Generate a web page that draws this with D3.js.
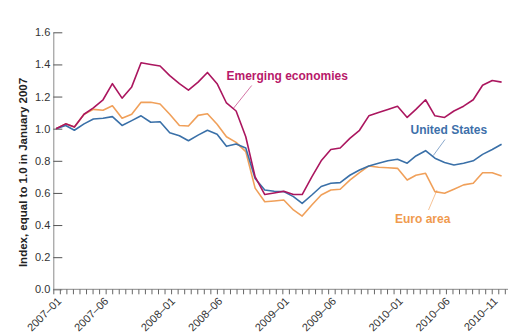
<!DOCTYPE html>
<html><head><meta charset="utf-8">
<script src="https://cdn.jsdelivr.net/npm/d3@7"></script>
<style>
body{margin:0;background:#fff;}
svg{display:block;font-family:"Liberation Sans",Arial,sans-serif;}
</style></head><body>
<svg id="c" width="508" height="333"></svg>
<script>
const months = d3.range(48).map(i => d3.timeMonth.offset(new Date(2007,0,1), i));
const emerging = [1.00,1.03,1.01,1.09,1.13,1.18,1.28,1.19,1.26,1.41,1.40,1.39,
  1.33,1.28,1.24,1.29,1.35,1.28,1.16,1.11,0.95,0.70,0.59,0.60,
  0.61,0.59,0.59,0.70,0.80,0.87,0.88,0.94,0.99,1.08,1.10,1.12,
  1.14,1.07,1.12,1.18,1.08,1.07,1.11,1.14,1.18,1.27,1.30,1.29];
const unitedStates = [1.00,1.02,0.99,1.03,1.06,1.065,1.075,1.02,1.05,1.08,1.04,1.043,
  0.975,0.956,0.925,0.96,0.99,0.965,0.89,0.905,0.88,0.69,0.618,0.61,
  0.608,0.577,0.535,0.587,0.64,0.66,0.664,0.71,0.743,0.768,0.785,0.80,
  0.81,0.785,0.83,0.863,0.816,0.79,0.774,0.785,0.80,0.84,0.87,0.903];
const euroArea = [1.00,1.03,1.01,1.09,1.12,1.115,1.143,1.065,1.09,1.164,1.164,1.154,
  1.09,1.02,1.017,1.083,1.093,1.028,0.95,0.915,0.857,0.63,0.545,0.55,
  0.556,0.494,0.456,0.525,0.587,0.618,0.623,0.68,0.726,0.768,0.76,0.757,
  0.753,0.68,0.71,0.722,0.608,0.598,0.623,0.65,0.66,0.726,0.726,0.705];
const yTicks = [0,0.2,0.4,0.6,0.8,1.0,1.2,1.4,1.6];
const xLabels = ["2007-01","2007-06","2008-01","2008-06","2009-01","2009-06","2010-01","2010-06","2010-11"];
const seriesNames = ["Emerging economies","United States","Euro area"];

const svg = d3.select("#c");
const axisX = 53.3;
const x = d3.scaleTime().domain([months[0], months[47]]).range([56, 501.6]);
const y = d3.scaleLinear().domain([0,1.6]).range([289.3, 32.3]);

const axisCol = "#8a8a8a";
// Y axis
const yAxis = d3.axisLeft(y).tickValues(yTicks).tickSize(0).tickPadding(3).tickFormat(d3.format(".1f"));
const gy = svg.append("g").attr("transform", `translate(${axisX},0)`).call(yAxis);
gy.select(".domain").attr("stroke", axisCol);
gy.selectAll(".tick text").attr("font-size", 11).attr("fill", "#333");
gy.selectAll(".tick").append("line").attr("x1",0).attr("x2",9).attr("stroke", "#555");

// X axis minor ticks (every 3 weeks)
const t0 = x.invert(axisX);
const minor = d3.range(0, 80).map(k => d3.timeDay.offset(t0, 21*k)).filter(d => x(d) <= 505);
const xAxis = d3.axisBottom(x).tickValues(minor).tickSize(5).tickFormat("");
const gx = svg.append("g").attr("transform", `translate(0,${y(0)})`).call(xAxis);
gx.select(".domain").attr("stroke", axisCol).attr("d", `M${axisX},0H508`);
gx.selectAll(".tick line").attr("stroke", "#666");

// X labels
const parse = d3.timeParse("%Y-%m");
svg.append("g").selectAll("text").data(xLabels).join("text")
  .attr("transform", d => `translate(${x(parse(d)) + 6},${y(0) + 12.5}) rotate(-45)`)
  .attr("text-anchor", "end")
  .attr("font-size", 11).attr("fill", "#333")
  .text(d => d.replace("-", "\u2013"));

// Y title
svg.append("text").attr("transform", `translate(27,172.5) rotate(-90)`)
  .attr("text-anchor", "middle").attr("font-size", 11.5).attr("font-weight", "bold").attr("fill", "#222")
  .text("Index, equal to 1.0 in January 2007");

const line = d3.line().x((d,i) => x(months[i])).y(d => y(d));
const colors = ["#ab165f", "#3a70a8", "#f0a05a"];
const textColors = ["#b8196a", "#3d70aa", "#f09a4e"];
[[euroArea,2],[unitedStates,1],[emerging,0]].forEach(([s,k]) => {
  svg.append("path").datum(s).attr("d", line).attr("fill","none")
    .attr("stroke", colors[k]).attr("stroke-width", 1.6).attr("stroke-linejoin","round");
});

// Labels with leader lines
const labels = [
  {name: seriesNames[0], tx: 226.5, ty: 80, l: [[251.7,85.5],[233.3,108.5]]},
  {name: seriesNames[1], tx: 410.5, ty: 134, l: [[445,139.5],[433.3,155.5]]},
  {name: seriesNames[2], tx: 395, ty: 222.5, l: [[437,190],[428.5,210]]}
];
labels.forEach((d,k) => {
  svg.append("line").attr("x1", d.l[0][0]).attr("y1", d.l[0][1]).attr("x2", d.l[1][0]).attr("y2", d.l[1][1])
    .attr("stroke", textColors[k]).attr("stroke-opacity", 0.6).attr("stroke-width", 1);
  svg.append("text").attr("x", d.tx).attr("y", d.ty).attr("font-size", 12).attr("font-weight", "bold")
    .attr("fill", textColors[k]).text(d.name);
});
</script>
</body></html>
